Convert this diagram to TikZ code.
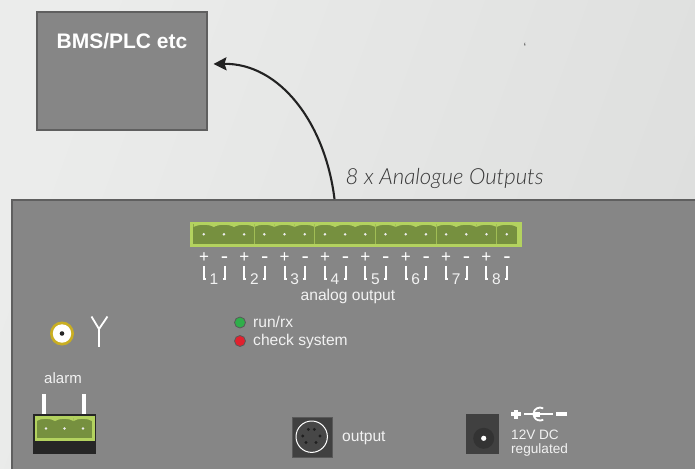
\documentclass[tikz,border=0pt]{standalone}
\usepackage{fontspec}
\setmainfont{Liberation Sans}
\newfontfamily\thinfont{Lato Light}[ItalicFont={Lato Light Italic}]
\usetikzlibrary{arrows.meta,calc}
\definecolor{panelgrey}{HTML}{868686}
\definecolor{edgegrey}{HTML}{5F5F5F}
\definecolor{txtgrey}{HTML}{F2F2F2}
\definecolor{termlight}{HTML}{B3D25F}
\definecolor{termdark}{HTML}{76903F}
\definecolor{arrowblack}{HTML}{222222}
\definecolor{jackdark}{HTML}{404040}
\definecolor{bncgold}{HTML}{C9AE22}
\definecolor{ledgreen}{HTML}{2FAE4A}
\definecolor{ledred}{HTML}{E2202E}
\definecolor{bgleft}{HTML}{EBECEB}
\definecolor{bgright}{HTML}{DEDFDE}
\tikzset{
  x=1pt,y=-1pt,
  box/.style={draw=edgegrey,line width=2pt,fill=panelgrey},
  lab/.style={text=txtgrey,inner sep=0pt,font=\fontsize{15.6}{17}\selectfont},
  sign/.style={text=white,inner sep=0pt,font=\fontsize{17}{17}\selectfont},
  dashsign/.style={text=white,inner sep=0pt,font=\fontsize{22}{22}\selectfont},
  num/.style={text=txtgrey,inner sep=0pt,font=\fontsize{15.5}{15.5}\selectfont},
  brk/.style={draw=white,line width=2pt},
  whiteline/.style={draw=white,line width=1.8pt},
  pin/.style={circle,fill=white!85!gray,inner sep=0pt,minimum size=2.8pt},
}
\newcommand{\scallops}[3]{% x-start, y, width
  \fill[termlight] (#1,#2) -- ++(#3,0) -- ++(0,3)
      .. controls ({#1+0.75*#3},{#2}) and ({#1+0.25*#3},{#2}) .. (#1,{#2+3}) -- cycle;
}
\begin{document}
\begin{tikzpicture}
\useasboundingbox (0,0) rectangle (695,468);
\shade[left color=bgleft,right color=bgright,shading angle=70] (0,0) rectangle (695,468);
% panel
\node[box,anchor=north west,minimum width=690,minimum height=275,inner sep=0pt] (panel) at (11,199) {};
% BMS
\node[box,anchor=north west,minimum width=170,minimum height=117,inner sep=0pt] (bms) at (35.5,11.5) {};
\node[text=white,inner sep=0pt,font=\bfseries\fontsize{21}{21}\selectfont] (bmslab) at (122,41.5) {BMS/PLC etc};
\coordinate (arrowtip) at (213.5,64);
\coordinate (arrowstart) at (334.5,199);
\draw[arrowblack,line width=2.1pt,-{Stealth[length=13pt,width=13pt,inset=2pt]}] (arrowstart) .. controls (325,122) and (279,63) .. (arrowtip);
\node[text=black!78,inner sep=0pt,font=\thinfont\itshape\fontsize{22.2}{23}\selectfont] (outlab) at (444.5,178) {8 x Analogue Outputs};
\node[text=black!70,inner sep=0pt,font=\fontsize{12}{12}\selectfont] (tick) at (525,47) {`};
% terminal strip
\node[fill=termlight,minimum width=332,minimum height=25,inner sep=0pt,anchor=north west] (strip) at (190,222) {};
\fill[termdark] (193,224) rectangle (517,244);
\foreach \i in {0,...,15}{
  \pgfmathsetmacro{\xa}{193.6+\i*20.2}
  \scallops{\xa}{224}{20.2}
  \node[pin] (p\i) at ({203.7+\i*20.2},234.3) {};
}
\foreach \dx in {254.7,314.3,375.7,436,496.7}{
  \draw[termlight!70!termdark,line width=.8pt] (\dx,224) -- (\dx,244);
}
% signs and brackets
\foreach \i in {1,...,8}{
  \pgfmathsetmacro{\xp}{204+(\i-1)*40.35}
  \node[sign] (plus\i) at (\xp,258) {+};
  \node[dashsign] (minus\i) at ({\xp+20.5},260) {-};
  \draw[brk] (\xp,266) -- (\xp,279) -- ({\xp+2},279);
  \draw[brk] ({\xp+20.5},266) -- ({\xp+20.5},279) -- ({\xp+18.5},279);
  \node[num] (n\i) at ({\xp+10},279) {\i};
}
\node[lab] (analog) at (348,296) {analog output};
% BNC and antenna
\fill[bncgold] (62,333.5) circle (12);
\fill[white] (62,333.5) circle (9.2);
\fill[black!85] (62,333.5) circle (2.3);
\draw[whiteline] (99,329) -- (99,346.5);
\draw[whiteline] (91.5,316.5) -- (99,329) -- (107.5,316.5);
% LEDs
\node[circle,draw=black!65,line width=.8pt,fill=ledgreen,minimum size=11pt,inner sep=0pt] (ledg) at (240,322.5) {};
\node[circle,draw=black!65,line width=.8pt,fill=ledred,minimum size=11pt,inner sep=0pt] (ledr) at (240,341) {};
\node[lab,anchor=west] (runrx) at (253,322) {run/rx};
\node[lab,anchor=west] (check) at (253,341.5) {check system};
% alarm
\node[lab,font=\fontsize{15}{17}\selectfont] (alarm) at (63,378) {alarm};
\fill[white] (42,394) rectangle (46,414);
\fill[white] (82,394) rectangle (86,414);
\fill[black!85] (33,414) rectangle (96,454);
\fill[termlight] (34.5,416) rectangle (94.5,441);
\fill[termdark] (36.5,418) rectangle (92,437.5);
\foreach \i in {0,1,2}{
  \pgfmathsetmacro{\xa}{36.5+\i*18.5}
  \scallops{\xa}{418}{18.5}
}
\foreach \i in {0,1,2}{
  \node[pin] (a\i) at ({46+\i*18.5},428.5) {};
}
% output jack
\node[fill=jackdark,draw=black!65,minimum width=40,minimum height=40,inner sep=0pt] (din) at (311.7,436.7) {};
\filldraw[draw=white!90,fill=black!72,line width=1pt] (din.center) circle (15.7);
\foreach \dx/\dy in {-3.3/-7.3,2.7/-7.3,-9/-0.7,8.3/-0.7,-5.7/5.7,4.3/5.7}{
  \fill[black!88] ($(311.7,436.7)+(\dx,\dy)$) circle (1.6);
}
\node[lab,anchor=west] (outp) at (342,438) {output};
% power
\node[fill=jackdark,minimum width=33,minimum height=40,inner sep=0pt,anchor=north west] (dc) at (466,414) {};
\fill[black!80] (483.7,438.3) circle (10.5);
\fill[white] (483.7,438.3) circle (2.6);
\node[lab,anchor=west,font=\fontsize{13.6}{15}\selectfont] (v12) at (511,435) {12V DC};
\node[lab,anchor=west,font=\fontsize{13.6}{15}\selectfont] (reg) at (511,450) {regulated};
% polarity symbol
\fill[white] (511,411.7) rectangle (520.7,416.3);
\fill[white] (514,409.7) rectangle (517.7,419);
\fill[white] (524,413.2) rectangle (553.3,415.2);
\fill[white] (555.7,411.7) rectangle (567,416.3);
\draw[white,line width=1.8pt] (540,414) ++(60:6.5) arc (60:300:6.5);
\fill[white] (534,411.5) rectangle (540,417);
\end{tikzpicture}
\end{document}
